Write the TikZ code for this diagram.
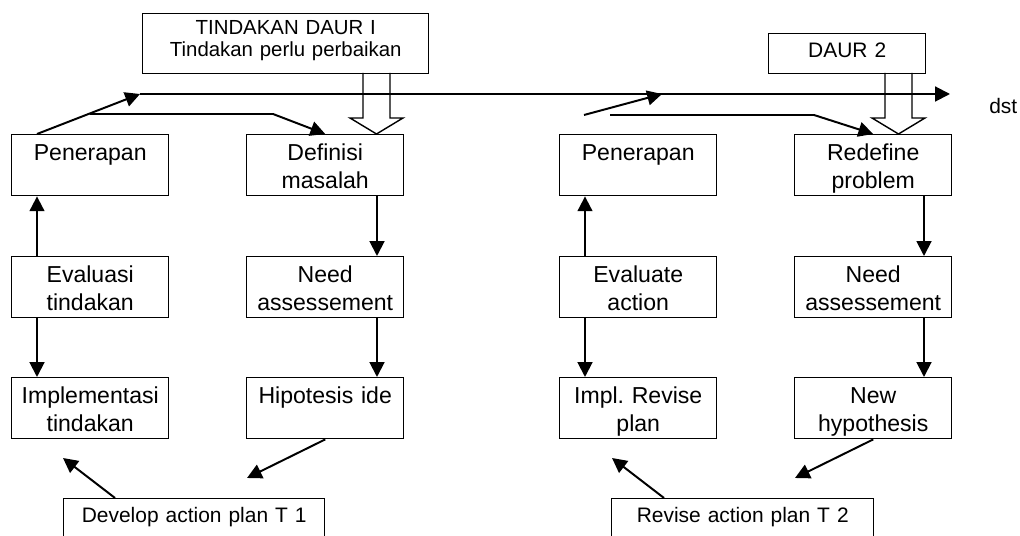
\documentclass[tikz,border=0pt]{standalone}
\usepackage{fontspec}
\setmainfont{Liberation Sans}
\usetikzlibrary{arrows.meta}
\begin{document}
\begin{tikzpicture}
[x=0.025cm,y=-0.025cm,
  boxdecorate/.style={shape=rectangle,draw,line width=1pt,inner sep=0pt,
    anchor=north west,align=center,text width=3.925cm,
    text height=0.65cm,text depth=0.875cm,
    font=\fontsize{16.4}{19.9}\selectfont},
  smallboxdecorate/.style={boxdecorate,font=\fontsize{14.9}{15}\selectfont,
    text height=0.6cm,text depth=0.4cm},
  arrowdecorate/.style={-{Triangle[length=10.5pt,width=10.5pt]},line width=1.4pt},
  blockdecorate/.style={draw,line width=1pt}]
\useasboundingbox (0,0) rectangle (1020,536);
%% boxes of both cycles
\foreach \nodename/\x/\y/\boxtext in {pen1/11/134/Penerapan,
  def1/246/134/{Definisi\\masalah}, eva1/11/256/{Evaluasi\\tindakan},
  need1/246/256/{Need\\assessement}, impl1/11/377/{Implementasi\\tindakan},
  hip1/246/377/{Hipotesis ide}, pen2/559/134/Penerapan,
  red2/794/134/{Redefine\\problem}, eva2/559/256/{Evaluate\\action},
  need2/794/256/{Need\\assessement}, impl2/559/377/{Impl.\ Revise\\plan},
  new2/794/377/{New\\hypothesis}} {
  \node (\nodename) at (\x,\y) [boxdecorate] {\boxtext};
}
%% cycle boxes and plans
\node (daur1) at (142,13) [smallboxdecorate,text width=7.15cm,
  font=\fontsize{14.5}{15.6}\selectfont,
  text height=0.525cm,text depth=0.975cm] {TINDAKAN DAUR I\\Tindakan perlu perbaikan};
\node (daur2) at (768,33) [smallboxdecorate] {DAUR 2};
\node (plan1) at (63,498) [smallboxdecorate,text width=6.525cm,
  text depth=0.75cm] {Develop action plan T 1};
\node (plan2) at (611,498) [smallboxdecorate,text width=6.55cm,
  text depth=0.75cm] {Revise action plan T 2};
\node (dst) at (989,114) [anchor=base west,inner sep=0pt,
  font=\fontsize{14.9}{15}\selectfont] {dst};
%% helper points
\coordinate (colA) at (37,0);
\coordinate (colB) at (377,0);
\coordinate (colC) at (585,0);
\coordinate (colD) at (924,0);
\coordinate (joinA) at (140,94);
\coordinate (forkA) at (90,114);
\coordinate (bendA) at (273,114);
\coordinate (forkB) at (584,115);
\coordinate (joinB) at (662,94);
\coordinate (startB) at (610,115);
\coordinate (bendB) at (814,115);
\coordinate (lineend) at (950,94);
\coordinate (tipH1) at (247,478);
\coordinate (tipP1) at (63,458);
\coordinate (tipN2) at (795,478);
\coordinate (tipP2) at (612,458);
%% vertical arrows
\foreach \startpt/\endpt/\col in {eva1.north/pen1.south/colA,
  eva1.south/impl1.north/colA, def1.south/need1.north/colB,
  need1.south/hip1.north/colB, eva2.north/pen2.south/colC,
  eva2.south/impl2.north/colC, red2.south/need2.north/colD,
  need2.south/new2.north/colD} {
  \draw[arrowdecorate] (\startpt -| \col) -- (\endpt -| \col);
}
%% top lines
\draw[arrowdecorate] (pen1.north -| colA) -- (joinA);
\draw[arrowdecorate] (joinA) -- (lineend);
\draw[arrowdecorate] (forkA) -- (bendA) -- (def1.north);
\draw[arrowdecorate] (forkB) -- (joinB);
\draw[arrowdecorate] (startB) -- (bendB) -- (red2.north);
%% bottom arrows
\draw[arrowdecorate] (hip1.south) -- (tipH1);
\draw[arrowdecorate] ([xshift=1.3cm]plan1.north west) -- (tipP1);
\draw[arrowdecorate] (new2.south) -- (tipN2);
\draw[arrowdecorate] ([xshift=1.325cm]plan2.north west) -- (tipP2);
%% hollow block arrows
\foreach \cx in {376.5, 898.5} {
  \draw[blockdecorate] (\cx-13.5,73) -- (\cx-13.5,118) -- (\cx-26.5,118)
    -- (\cx,134) -- (\cx+26.5,118) -- (\cx+13.5,118) -- (\cx+13.5,73);
}
\end{tikzpicture}
\end{document}
